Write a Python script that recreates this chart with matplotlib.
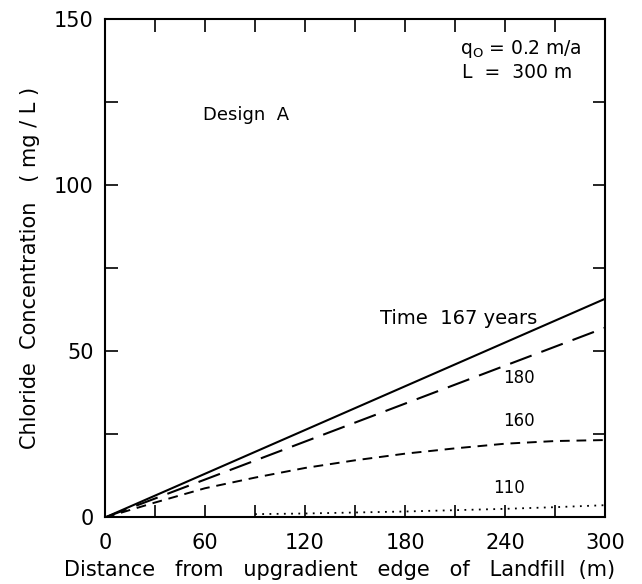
import matplotlib.pyplot as plt
from matplotlib.ticker import MultipleLocator

# distance from upgradient edge (m)
x_lin = [0, 300]
conc_167 = [0, 65.8]
conc_180 = [0, 57.1]

x_160 = [0, 30, 60, 90, 120, 150, 180, 210, 240, 270, 300]
conc_160 = [0, 4.5, 8.8, 12.0, 14.9, 17.2, 19.2, 20.8, 22.2, 23.0, 23.3]

x_110 = [90, 120, 150, 180, 210, 240, 270, 300]
conc_110 = [1.0, 1.2, 1.5, 1.8, 2.2, 2.6, 3.1, 3.7]

plt.rcParams['font.family'] = ['DejaVu Sans']

fig = plt.figure(figsize=(6.42, 5.84), dpi=100)
ax = fig.add_axes([0.1636, 0.1139, 0.7788, 0.8536])

ax.plot(x_lin, conc_167, color='black', lw=1.5)
ax.plot(x_lin, conc_180, color='black', lw=1.5, dashes=(11, 5))
ax.plot(x_160, conc_160, color='black', lw=1.4, dashes=(5, 3.5))
ax.plot(x_110, conc_110, color='black', lw=1.3, dashes=(1, 3))

ax.set_xlim(0, 300)
ax.set_ylim(0, 150)
ax.xaxis.set_major_locator(MultipleLocator(60))
ax.xaxis.set_minor_locator(MultipleLocator(30))
ax.yaxis.set_major_locator(MultipleLocator(50))
ax.yaxis.set_minor_locator(MultipleLocator(25))
ax.tick_params(which='both', direction='in', top=True, right=True,
               length=9, width=1.2, labelsize=15)
ax.tick_params(axis='x', pad=11)
ax.tick_params(axis='y', pad=8)
for s in ax.spines.values():
    s.set_linewidth(1.5)

ax.set_xlabel('Distance   from   upgradient   edge   of   Landfill  (m)', fontsize=15, labelpad=6)
ax.xaxis.set_label_coords(0.47, -0.085)
ax.set_ylabel('Chloride  Concentration   ( mg / L )', fontsize=15, labelpad=10)

ax.text(59, 121, 'Design  A', fontsize=13, va='center')
ax.text(213, 141, r'q$_\mathregular{O}$ = 0.2 m/a', fontsize=13.5, va='center')
ax.text(214, 134, 'L  =  300 m', fontsize=13.5, va='center')
ax.text(165, 60, 'Time  167 years', fontsize=14, va='center')
ax.text(239, 42, '180', fontsize=12, va='center')
ax.text(239, 29, '160', fontsize=12, va='center')
ax.text(233, 9, '110', fontsize=12, va='center')

fig.savefig('out.png', dpi=100)
